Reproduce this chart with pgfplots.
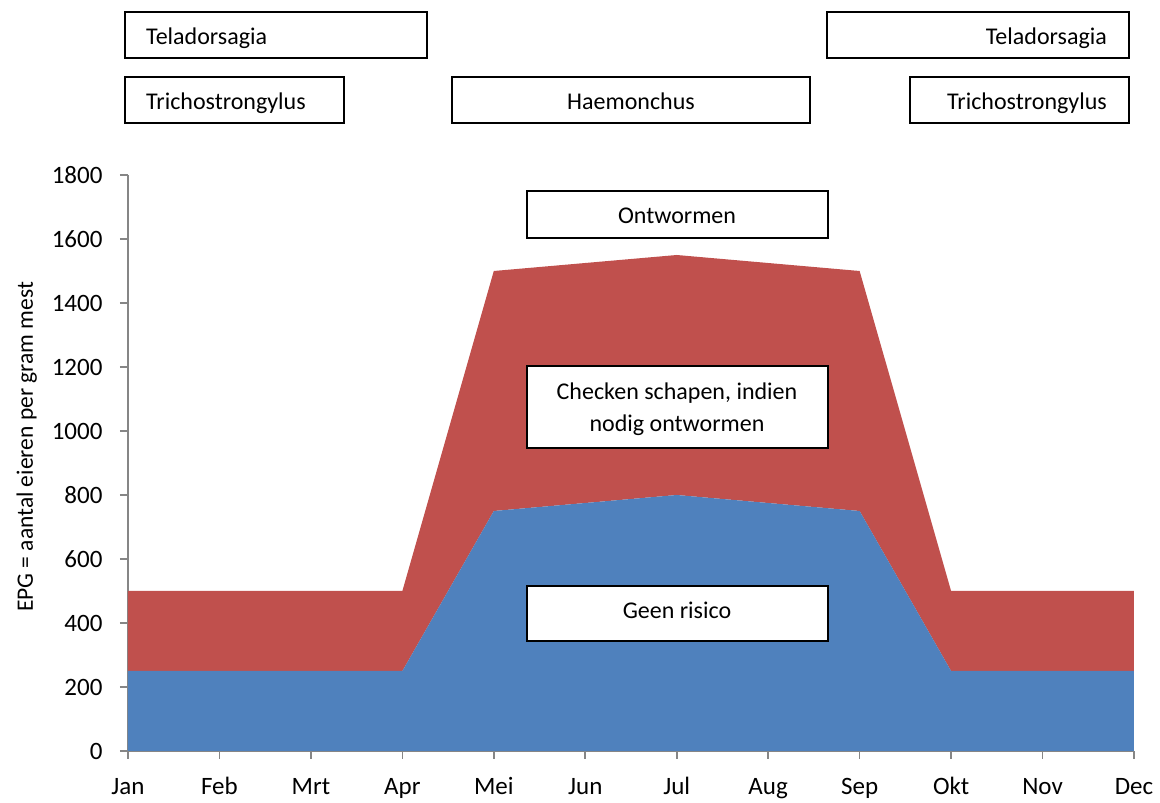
\documentclass[border=0pt]{standalone}
\usepackage{pgfplots}
\pgfplotsset{compat=1.18}
\usepackage{fontspec}
\setmainfont{Carlito}
\definecolor{cblue}{HTML}{4F81BD}
\definecolor{cred}{HTML}{C0504D}
\definecolor{axgray}{HTML}{868686}
\newcommand\bx[4]{\draw[line width=1.3pt, fill=white] (#1-128,751-#2) rectangle (#3-128,751-#4);}
\begin{document}
\begin{tikzpicture}[x=1pt,y=1pt]
\path (-128,-47) rectangle (1032,751);
\begin{axis}[
  at={(0,0)}, anchor=south west,
  scale only axis, width=1006pt, height=576pt,
  xmin=0, xmax=11, ymin=0, ymax=1800,
  stack plots=y,
  axis x line*=bottom, axis y line*=left,
  axis line style={axgray, line width=1.6pt},
  tick style={axgray, line width=1.6pt},
  tick align=outside, major tick length=8pt,
  xtick={0,...,11},
  xticklabels={Jan,Feb,Mrt,Apr,Mei,Jun,Jul,Aug,Sep,Okt,Nov,Dec},
  ytick={0,200,...,1800},
  /pgf/number format/assume math mode=true,
  /pgf/number format/1000 sep={},
  tick label style={font=\fontsize{25}{30}\selectfont, black},
  xticklabel style={text height=17pt, text depth=5pt, yshift=-14.7pt},
  yticklabel style={xshift=-14pt},
  clip=false,
]
\addplot[fill=cblue, draw=none] coordinates {
 (0,250) (1,250) (2,250) (3,250) (4,750) (5,775) (6,800) (7,775) (8,750) (9,250) (10,250) (11,250)} \closedcycle;
\addplot[fill=cred, draw=none] coordinates {
 (0,250) (1,250) (2,250) (3,250) (4,750) (5,750) (6,750) (7,750) (8,750) (9,250) (10,250) (11,250)} \closedcycle;
\end{axis}
\begin{scope}[every node/.style={inner sep=0pt, font=\fontsize{24}{29}\selectfont}]
\bx{125}{12}{427}{58}
\node[anchor=base west] at (146-128,751-45) {Teladorsagia};
\bx{125}{77}{344}{123}
\node[anchor=base west] at (146-128,751-110) {Trichostrongylus};
\bx{452}{77}{810}{123}
\node[anchor=base] at (631-128,751-110) {Haemonchus};
\bx{827}{12}{1129}{58}
\node[anchor=base east] at (1107-128,751-45) {Teladorsagia};
\bx{910}{77}{1129}{123}
\node[anchor=base east] at (1107-128,751-110) {Trichostrongylus};
\bx{527}{191}{828}{238}
\node[anchor=base] at (677-128,751-224) {Ontwormen};
\bx{527}{366}{828}{448}
\node[anchor=base] at (677-128,751-400) {Checken schapen, indien};
\node[anchor=base] at (677-128,751-432) {nodig ontwormen};
\bx{527}{586}{828}{641}
\node[anchor=base] at (677-128,751-619) {Geen risico};
\node[rotate=90, anchor=base, font=\fontsize{23.5}{28}\selectfont] at (33-128,751-447) {EPG = aantal eieren per gram mest};
\end{scope}
\end{tikzpicture}
\end{document}
